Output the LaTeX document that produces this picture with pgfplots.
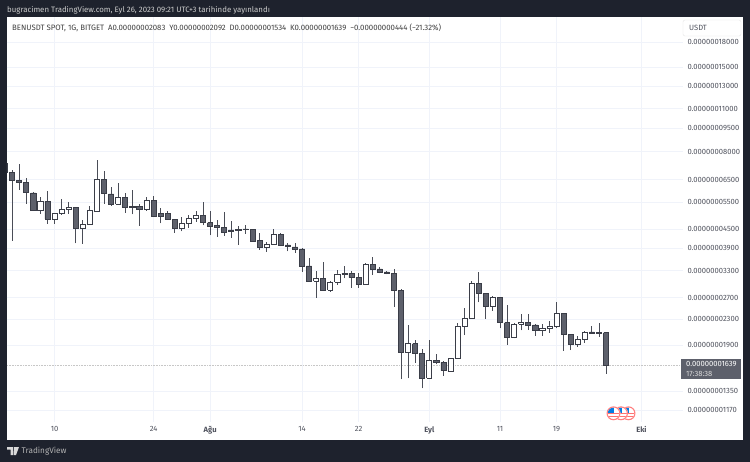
\documentclass[border=0pt]{standalone}
\usepackage{fontspec}
\setmainfont{Fira Sans}
\usepackage{pgfplots}
\usepackage{pgfplotstable}
\pgfplotsset{compat=1.18}
\definecolor{panelbg}{HTML}{1E222D}
\definecolor{gridc}{HTML}{F0F3FA}
\definecolor{labelc}{HTML}{50535E}
\definecolor{bodyd}{HTML}{5D606B}
\definecolor{edgec}{HTML}{3A3D47}
\definecolor{wickc}{HTML}{4A4D57}
% prices in units of 1e-11 (1639 = 0.00000001639), d = days since 30 June
\pgfplotstableread{
d o h l c
8 5158 5724 5044 5532
10 4850 5044 4673 5044
11 5044 5615 4996 5212
12 5197 5503 5044 5290
14 4526 4814 4027 4648
15 4648 5354 4648 5173
16 5147 7519 5136 6515
19 5410 6324 5382 5698
23 5197 5724 5158 5573
28 4526 4911 4426 4697
29 4697 4996 4546 4861
30 4861 5158 4753 4985
40 3919 4078 3804 4018
41 4018 4492 4007 4328
47 3052 3295 2702 3121
49 2855 3059 2825 3030
50 3030 3312 2970 3223
54 2977 3489 2977 3463
60 1796 2201 1485 1920
63 1483 1967 1481 1697
66 1568 1731 1560 1723
67 1723 2234 1714 2190
68 2190 2503 2044 2312
69 2312 3059 2307 3007
72 2535 2737 2448 2710
75 2008 2234 1999 2218
76 2218 2394 2121 2251
79 2115 2223 2038 2147
80 2153 2273 2084 2190
81 2185 2617 2153 2406
84 1906 2033 1874 1984
85 1984 2110 1935 2090
}\upcandles
\pgfplotstableread{
d o h l c
3 7335 7353 6826 6841
4 6862 6980 4127 6447
5 6466 7298 6017 6352
6 6371 6578 5422 5897
7 5884 5941 5158 5173
9 5532 5972 4673 4850
13 5290 5314 4048 4526
17 6515 6928 5422 5853
18 5840 6166 5342 5410
20 5698 5897 5082 5275
21 5330 6017 5022 5275
22 5330 5410 4614 5197
24 5573 5754 4959 4959
25 5044 5275 4697 4959
26 5044 5147 4839 4850
27 4839 4861 4381 4526
31 4985 5491 4628 4718
32 4718 5136 4296 4604
33 4628 4814 4252 4560
34 4560 5109 4274 4403
35 4469 4788 4211 4413
36 4492 4604 4007 4446
37 4502 4638 4338 4479
38 4492 4502 4109 4118
39 4127 4360 3852 3919
42 4316 4360 3968 3978
43 3998 4057 3815 3948
44 3939 4048 3776 3881
45 3881 3919 3278 3403
46 3420 3630 3052 3052
48 3121 3523 2847 2855
51 3240 3420 3121 3223
52 3240 3288 2911 3135
53 3145 3240 2911 2977
55 3463 3665 3206 3345
56 3345 3395 3240 3254
57 3271 3295 3216 3240
58 3240 3337 2528 2847
59 2847 2889 1474 1796
61 1920 1970 1668 1788
62 1790 1842 1377 1481
64 1697 1775 1645 1672
65 1672 1685 1514 1571
70 3007 3271 2611 2784
71 2784 2798 2312 2535
73 2710 2722 2153 2244
74 2244 2554 1906 2013
77 2251 2388 2126 2206
78 2206 2228 2038 2115
82 2406 2418 1819 2059
83 2059 2064 1832 1906
86 2095 2190 2064 2074
87 2090 2239 2023 2074
88 2083 2092 1534 1639
}\downcandles
% #1 table, #2 row, #3 fill
\newcommand{\candle}[3]{%
  \pgfplotstablegetelem{#2}{d}\of#1\let\cd\pgfplotsretval
  \pgfplotstablegetelem{#2}{o}\of#1\let\co\pgfplotsretval
  \pgfplotstablegetelem{#2}{c}\of#1\let\cc\pgfplotsretval
  \pgfplotstablegetelem{#2}{h}\of#1\let\ch\pgfplotsretval
  \pgfplotstablegetelem{#2}{l}\of#1\let\cl\pgfplotsretval
  \pgfmathsetmacro\xl{\cd-0.36}
  \pgfmathsetmacro\xr{\cd+0.36}
  \edef\next{%
    \noexpand\addplot[forget plot, draw=wickc, line width=0.9pt]
      coordinates {(\cd,\cl) (\cd,\ch)};
    \noexpand\addplot[forget plot, draw=edgec, fill=#3, line width=0.8pt, line join=miter]
      coordinates {(\xl,\co) (\xr,\co) (\xr,\cc) (\xl,\cc) (\xl,\co)};
  }\next
}
\newcommand{\flag}[2]{%
  \fill[white] (#1,#2) circle (7);
  \begin{scope}
    \clip (#1,#2) circle (5.8);
    \fill[red!55] (#1-7,#2-0.6) rectangle (#1+7,#2+0.8);
    \fill[red!55] (#1-7,#2+2.4) rectangle (#1+7,#2+3.8);
    \fill[blue!45!cyan!90!black] (#1-7,#2-7) rectangle (#1+0.8,#2-0.6);
  \end{scope}
  \draw[red!50,line width=1.1pt] (#1,#2) circle (6.4);
}
\begin{document}
\begin{tikzpicture}
\begin{scope}[x=1pt,y=-1pt]
\fill[panelbg] (0,0) rectangle (750,462);
\fill[white] (7,17) rectangle (743,439.5);
\end{scope}
\begin{axis}[
    at={(7pt,-422pt)},
    anchor=south west,
    scale only axis,
    width=676pt,
    height=405pt,
    ymode=log,
    xmin=3.27, xmax=98.88,
    ymin=1073, ymax=21750,
    axis line style={draw=none},
    major tick length=0pt,
    minor tick length=0pt,
    grid=major,
    grid style={gridc, line width=0.6pt},
    xtick={10,24,32,45,53,63,73,81,93},
    xticklabels={10,24,{\bfseries Ağu},14,22,{\bfseries Eyl},11,19,{\bfseries Eki}},
    ytick={18000,15000,13000,11000,9500,8000,6500,5500,4500,3900,3300,2700,2300,1900,1350,1170},
    yticklabels={0.00000018000,0.00000015000,0.00000013000,0.00000011000,0.00000009500,0.00000008000,0.00000006500,0.00000005500,0.00000004500,0.00000003900,0.00000003300,0.00000002700,0.00000002300,0.00000001900,0.00000001350,0.00000001170},
    yticklabel pos=right,
    tick label style={font=\fontsize{7.6}{9}\selectfont, text=labelc},
    yticklabel style={anchor=west, xshift=1pt},
    xticklabel style={yshift=-1pt},
]
\addplot[forget plot, densely dotted, color=black!22, line width=0.6pt] coordinates {(3.27,1639) (98.88,1639)};
\pgfplotsinvokeforeach{0,...,53}{\candle{\downcandles}{#1}{bodyd}}
\pgfplotsinvokeforeach{0,...,31}{\candle{\upcandles}{#1}{white}}
\end{axis}
\begin{scope}[x=1pt,y=-1pt]
% header and footer text
\node[anchor=west, text=white!80!black, inner sep=0pt, font=\fontsize{7.85}{9}\selectfont] at (7,10) {bugracimen TradingView.com, Eyl 26, 2023 09:21 UTC+3 tarihinde yayınlandı};
\node[anchor=west, text=black!75, inner sep=0pt, font=\fontsize{7.8}{9}\selectfont] at (12,27.5) {BENUSDT SPOT, 1G, BITGET\enspace A0.00000002083\enspace Y0.00000002092\enspace D0.00000001534\enspace K0.00000001639\enspace −0.00000000444 (−21.32\%)};
\draw[black!10, fill=white, rounded corners=2pt] (683,20) rectangle (741,36);
\node[anchor=west, text=labelc, inner sep=0pt, font=\fontsize{7.6}{9}\selectfont] at (689,28) {USDT};
% last price tag
\fill[bodyd] (681,359) rectangle (741,379.5);
\node[anchor=west, text=white, inner sep=0pt, font=\fontsize{7.6}{9}\selectfont] at (686,364.5) {0.00000001639};
\node[anchor=west, text=white!85!black, inner sep=0pt, font=\fontsize{7.6}{9}\selectfont] at (686,374) {17:38:38};
% event flags
\flag{628.5}{413.3}
\flag{621}{413.3}
\flag{613.5}{413.3}
% logo
\fill[white!85!black] (7,447) -- (13,447) -- (13,455) -- (10.5,455) -- (10.5,449.5) -- (7,449.5) -- cycle;
\fill[white!85!black] (14,447) -- (19,447) -- (16,455) -- (13.5,455) -- cycle;
\node[anchor=west, text=white!70!black, inner sep=0pt, font=\fontsize{8.2}{9}\selectfont] at (21.5,451) {TradingView};
\end{scope}
\end{tikzpicture}
\end{document}
